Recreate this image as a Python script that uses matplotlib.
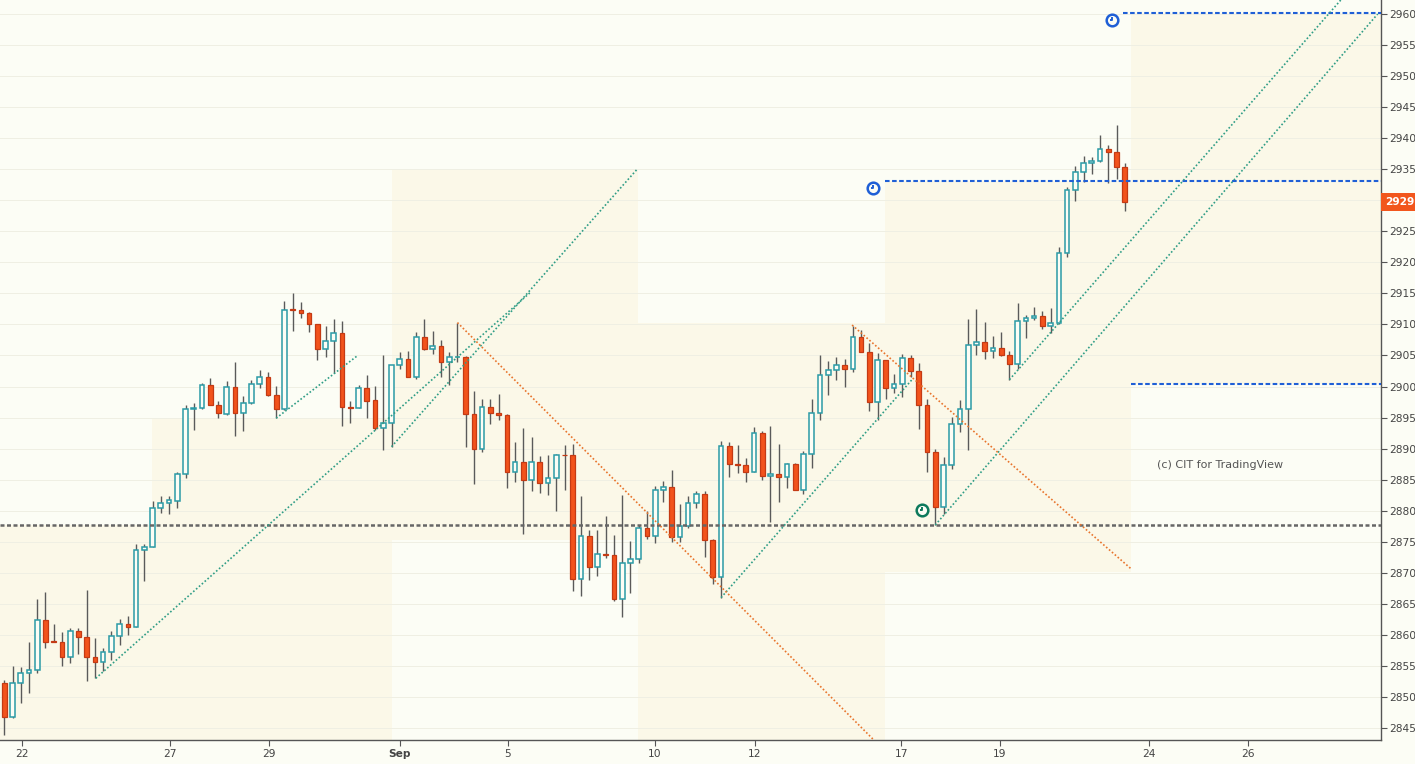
import matplotlib
matplotlib.use("Agg")
import matplotlib.pyplot as plt
from matplotlib.path import Path
from matplotlib.patches import Rectangle
import numpy as np

# ---------------- data ----------------
opens = [2852.2, 2846.8, 2852.2, 2853.8, 2854.3, 2862.4, 2859.0, 2858.9, 2856.4, 2860.7,
         2859.6, 2856.5, 2855.7, 2857.2, 2859.8, 2861.7, 2861.2, 2873.6, 2874.1, 2880.4,
         2881.3, 2881.6, 2885.9, 2896.3, 2896.5, 2900.2, 2897.0, 2895.6, 2900.0, 2895.8,
         2897.3, 2900.4, 2901.6, 2898.6, 2896.3, 2912.5, 2912.4, 2911.9, 2910.0, 2906.0,
         2907.4, 2908.6, 2896.7, 2896.6, 2899.7, 2897.8, 2893.3, 2894.2, 2903.4, 2904.4,
         2901.6, 2907.9, 2906.0, 2906.6, 2903.9, 2904.7, 2904.8, 2895.5, 2889.9, 2896.7,
         2895.8, 2895.4, 2886.3, 2887.8, 2884.9, 2887.8, 2884.4, 2885.2, 2889.0, 2888.9,
         2869.0, 2876.0, 2871.0, 2873.1, 2872.9, 2865.8, 2871.5, 2872.3, 2877.2, 2876.0,
         2883.3, 2883.8, 2875.7, 2877.5, 2881.2, 2882.7, 2875.2, 2869.4, 2890.5, 2887.6,
         2887.3, 2886.3, 2892.5, 2885.6, 2885.9, 2885.4, 2887.6, 2883.4, 2889.1, 2895.7,
         2901.8, 2902.7, 2903.4, 2902.8, 2907.9, 2905.6, 2897.5, 2904.2, 2899.7, 2900.4,
         2904.6, 2902.5, 2897.1, 2889.4, 2880.6, 2887.4, 2893.9, 2896.3, 2906.7, 2907.1,
         2905.8, 2906.2, 2905.0, 2903.6, 2910.5, 2911.0, 2911.4, 2909.8, 2910.2, 2921.5,
         2931.7, 2934.6, 2936.0, 2936.3, 2938.2, 2937.8, 2935.4]
highs = [2852.7, 2855.0, 2854.8, 2858.8, 2865.8, 2866.9, 2861.8, 2860.5, 2861.1, 2861.1,
         2867.2, 2859.5, 2857.9, 2860.6, 2862.6, 2863.0, 2874.6, 2874.6, 2881.6, 2882.4,
         2882.4, 2886.3, 2897.0, 2897.3, 2900.6, 2901.3, 2897.7, 2900.9, 2904.0, 2898.5,
         2901.1, 2902.7, 2902.3, 2900.1, 2913.8, 2915.1, 2913.6, 2912.0, 2910.1, 2909.7,
         2910.9, 2910.6, 2897.7, 2900.2, 2901.9, 2900.1, 2905.1, 2903.5, 2905.6, 2905.7,
         2908.7, 2910.9, 2909.0, 2907.5, 2905.6, 2910.3, 2904.9, 2899.3, 2898.0, 2898.0,
         2898.8, 2895.5, 2891.0, 2893.3, 2891.9, 2888.8, 2889.0, 2889.1, 2890.6, 2890.7,
         2882.4, 2876.9, 2876.9, 2879.2, 2876.1, 2882.5, 2875.1, 2877.7, 2880.0, 2884.0,
         2884.8, 2886.5, 2881.1, 2882.3, 2883.2, 2883.2, 2875.5, 2891.2, 2891.1, 2890.6,
         2888.5, 2893.4, 2892.9, 2893.6, 2890.8, 2887.7, 2887.7, 2889.6, 2898.0, 2905.1,
         2904.1, 2904.8, 2904.4, 2909.8, 2909.1, 2907.0, 2905.4, 2904.3, 2902.0, 2905.2,
         2905.0, 2903.8, 2898.0, 2889.9, 2888.6, 2895.1, 2897.8, 2910.9, 2912.5, 2910.4,
         2908.2, 2908.7, 2905.7, 2913.5, 2911.5, 2912.8, 2912.2, 2912.6, 2922.4, 2932.2,
         2935.5, 2937.1, 2937.0, 2940.5, 2938.9, 2942.1, 2936.0]
lows = [2843.9, 2846.6, 2849.1, 2850.7, 2853.9, 2857.9, 2858.8, 2855.0, 2855.5, 2857.0,
        2852.6, 2853.0, 2854.2, 2856.0, 2858.3, 2860.0, 2861.2, 2868.6, 2874.1, 2879.7,
        2879.4, 2880.5, 2885.2, 2893.0, 2896.4, 2897.0, 2895.0, 2895.4, 2892.1, 2892.9,
        2897.2, 2899.7, 2898.5, 2894.9, 2896.2, 2909.0, 2911.1, 2908.7, 2904.3, 2904.8,
        2902.2, 2893.7, 2894.2, 2896.5, 2895.0, 2893.0, 2889.7, 2890.3, 2902.8, 2901.5,
        2901.2, 2905.9, 2905.2, 2901.6, 2900.2, 2903.9, 2890.2, 2884.3, 2889.4, 2893.9,
        2894.6, 2883.6, 2884.6, 2876.2, 2883.2, 2882.8, 2882.5, 2879.9, 2883.3, 2867.1,
        2866.2, 2868.9, 2869.5, 2872.4, 2865.4, 2862.9, 2866.7, 2871.5, 2875.5, 2874.8,
        2881.4, 2874.9, 2875.0, 2877.2, 2880.5, 2872.6, 2868.2, 2865.9, 2885.5, 2886.1,
        2884.7, 2886.2, 2884.9, 2878.2, 2881.4, 2883.6, 2883.3, 2882.7, 2886.9, 2894.6,
        2898.6, 2901.1, 2900.0, 2902.4, 2905.5, 2896.0, 2894.6, 2898.0, 2898.9, 2898.3,
        2901.6, 2893.1, 2886.2, 2877.7, 2879.4, 2886.7, 2892.7, 2889.7, 2905.0, 2904.4,
        2904.6, 2904.9, 2901.1, 2902.9, 2907.8, 2910.7, 2909.2, 2908.6, 2910.1, 2920.9,
        2929.9, 2933.0, 2934.3, 2936.1, 2932.7, 2933.5, 2928.3]
closes = [2846.8, 2852.2, 2853.8, 2854.3, 2862.4, 2858.9, 2858.9, 2856.4, 2860.7, 2859.6,
          2856.5, 2855.7, 2857.2, 2859.8, 2861.7, 2861.2, 2873.6, 2874.1, 2880.4, 2881.3,
          2881.7, 2885.9, 2896.3, 2896.5, 2900.2, 2897.0, 2895.7, 2900.0, 2895.8, 2897.3,
          2900.4, 2901.6, 2898.6, 2896.3, 2912.4, 2912.4, 2911.9, 2910.0, 2906.0, 2907.4,
          2908.6, 2896.7, 2896.6, 2899.7, 2897.7, 2893.3, 2894.2, 2903.4, 2904.4, 2901.6,
          2907.9, 2906.0, 2906.6, 2903.9, 2904.7, 2904.8, 2895.5, 2889.9, 2896.7, 2895.8,
          2895.4, 2886.3, 2887.8, 2884.9, 2887.8, 2884.4, 2885.2, 2888.9, 2888.9, 2869.0,
          2876.0, 2871.0, 2873.1, 2872.8, 2865.8, 2871.5, 2872.3, 2877.2, 2876.0, 2883.3,
          2883.8, 2875.7, 2877.5, 2881.2, 2882.7, 2875.2, 2869.4, 2890.5, 2887.6, 2887.3,
          2886.3, 2892.5, 2885.6, 2885.9, 2885.4, 2887.6, 2883.4, 2889.1, 2895.7, 2901.8,
          2902.7, 2903.4, 2902.8, 2907.9, 2905.6, 2897.5, 2904.2, 2899.7, 2900.4, 2904.6,
          2902.5, 2897.1, 2889.4, 2880.6, 2887.4, 2893.9, 2896.3, 2906.7, 2907.1, 2905.8,
          2906.2, 2905.0, 2903.6, 2910.5, 2911.0, 2911.4, 2909.8, 2910.2, 2921.5, 2931.7,
          2934.6, 2936.0, 2936.3, 2938.2, 2937.8, 2935.4, 2929.75]

tick_pos = [2.1, 20.1, 32.1, 48.0, 61.1, 79.0, 91.1, 108.9, 120.8, 138.9, 150.9]
tick_labels = ["22", "27", "29", "Sep", "5", "10", "12", "17", "19", "24", "26"]
y_ticks = list(range(2845, 2961, 5))

# weekly range boxes (bar index span, price span)
box_x0 = [-2.0, 17.9, 47.1, 76.9, 106.9, 136.8]
box_x1 = [17.9, 47.1, 76.9, 106.9, 136.8, 175.0]
box_lo = [2830.0, 2830.0, 2875.2, 2830.0, 2870.1, 2900.4]
box_hi = [2877.65, 2894.7, 2934.8, 2910.2, 2933.1, 2960.1]

# horizontal levels
grey_level = 2877.65
blue_levels = [2933.1, 2960.1, 2900.4]
blue_starts = [106.9, 135.8, 136.8]

# trend lines (start index, start price, end index, end price)
teal_lines = [(11.1, 2853.0, 63.8, 2915.1),
              (33.0, 2894.9, 42.9, 2905.0),
              (47.0, 2890.3, 76.75, 2934.9),
              (87.0, 2866.0, 110.3, 2901.3),
              (113.0, 2877.7, 166.7, 2960.0),
              (122.0, 2901.1, 166.0, 2968.0)]
orange_lines = [(55.0, 2910.3, 108.0, 2839.8),
                (102.9, 2909.9, 136.8, 2870.6)]

# alert icons (index, price)
blue_icons = [(105.5, 2931.9), (134.5, 2959.0)]
green_icons = [(111.4, 2880.1)]

last_price = closes[-1]
watermark = "(c) CIT for TradingView"

# ---------------- style ----------------
BG = "#fcfdf5"
BOX = "#fbf8e8"
UP = "#2b9ba6"
DN_FILL = "#f2531c"
DN_EDGE = "#c43a14"
WICK = "#5a5a5a"
AXC = "#555555"

W, H = 1415, 764
fig = plt.figure(figsize=(W / 100, H / 100), dpi=100, facecolor=BG)
ax = fig.add_axes([0.0, (764 - 739.5) / 764, 1381 / 1415, 739.5 / 764])
ax.set_facecolor(BG)

x0, x1 = -0.52, 167.1
ax.set_xlim(x0, x1)
ax.set_ylim(2843.15, 2962.25)

# boxes
for a, b, lo, hi in zip(box_x0, box_x1, box_lo, box_hi):
    ax.add_patch(Rectangle((a, lo), b - a, hi - lo, facecolor=BOX, edgecolor="none", zorder=0))

# grid
for yv in y_ticks:
    ax.axhline(yv, color="#efefe3", lw=0.7, zorder=0.5)

# candles
idx = np.arange(len(opens))
o = np.array(opens); h = np.array(highs); l = np.array(lows); c = np.array(closes)
up = c > o
ax.vlines(idx, l, h, color=WICK, lw=1.0, zorder=2)
bw = 0.57
bottoms = np.minimum(o, c)
heights = np.maximum(np.abs(c - o), 0.12)
ax.bar(idx[up], heights[up], bottom=bottoms[up], width=bw, facecolor=BG,
       edgecolor=UP, linewidth=1.1, zorder=3)
ax.bar(idx[~up], heights[~up], bottom=bottoms[~up], width=bw, facecolor=DN_FILL,
       edgecolor=DN_EDGE, linewidth=0.9, zorder=3)

# horizontal levels
ax.plot([x0, x1], [grey_level, grey_level], color="#666666", lw=1.8,
        linestyle=(0, (1.6, 1.0)), zorder=4)
for lv, st in zip(blue_levels, blue_starts):
    ax.plot([st, x1], [lv, lv], color="#1f5fd6", lw=1.5, linestyle=(0, (2.2, 1.2)), zorder=4)

# trend lines
for (a, pa, b, pb) in teal_lines:
    ax.plot([a, b], [pa, pb], color="#2f9d86", lw=1.2, linestyle=(0, (1, 1.3)), zorder=4)
for (a, pa, b, pb) in orange_lines:
    ax.plot([a, b], [pa, pb], color="#e8742c", lw=1.2, linestyle=(0, (1, 1.3)), zorder=4)

# alert icons
hand = Path([(0, 0.5), (0, 0), (-0.35, 0)], [Path.MOVETO, Path.LINETO, Path.LINETO])
for icons, col in ((blue_icons, "#1f5fd6"), (green_icons, "#0d7a5c")):
    xs = [p[0] for p in icons]; ps = [p[1] for p in icons]
    ax.scatter(xs, ps, s=70, marker="o", facecolor=BG, edgecolor=col, linewidth=1.8, zorder=6)
    ax.scatter(xs, ps, s=26, marker=hand, facecolor="none", edgecolor=col, linewidth=1.4, zorder=7)

# watermark
ax.text(139.9, 2887.3, watermark, fontsize=8, color="#555555", ha="left", va="center", zorder=5)

# axes styling
for s in ("left", "top"):
    ax.spines[s].set_visible(False)
for s in ("right", "bottom"):
    ax.spines[s].set_color(AXC)
    ax.spines[s].set_linewidth(1.0)
ax.yaxis.tick_right()
ax.set_yticks(y_ticks)
# the 2930 label is hidden behind the last-price tag in the reference
ax.set_yticklabels(["" if v == 2930 else f"{v:.2f}" for v in y_ticks])
ax.set_xticks(tick_pos)
ax.set_xticklabels(tick_labels)
for lab in ax.get_xticklabels():
    if lab.get_text() == "Sep":
        lab.set_fontweight("bold")
ax.tick_params(axis="both", colors=AXC, labelcolor="#444444", labelsize=7.7, length=4, width=0.8)
ax.tick_params(axis="y", pad=2)
ax.tick_params(axis="x", pad=3)

# last price tag
ax.annotate(f"{last_price:.2f}", xy=(1.0, last_price), xycoords=("axes fraction", "data"),
            xytext=(3, 0), textcoords="offset points", ha="left", va="center",
            fontsize=7.7, fontweight="bold", color="white", annotation_clip=False,
            bbox=dict(boxstyle="square,pad=0.35", facecolor="#f2561d", edgecolor="none"),
            zorder=10)

fig.savefig("out.png", dpi=100, facecolor=BG)
